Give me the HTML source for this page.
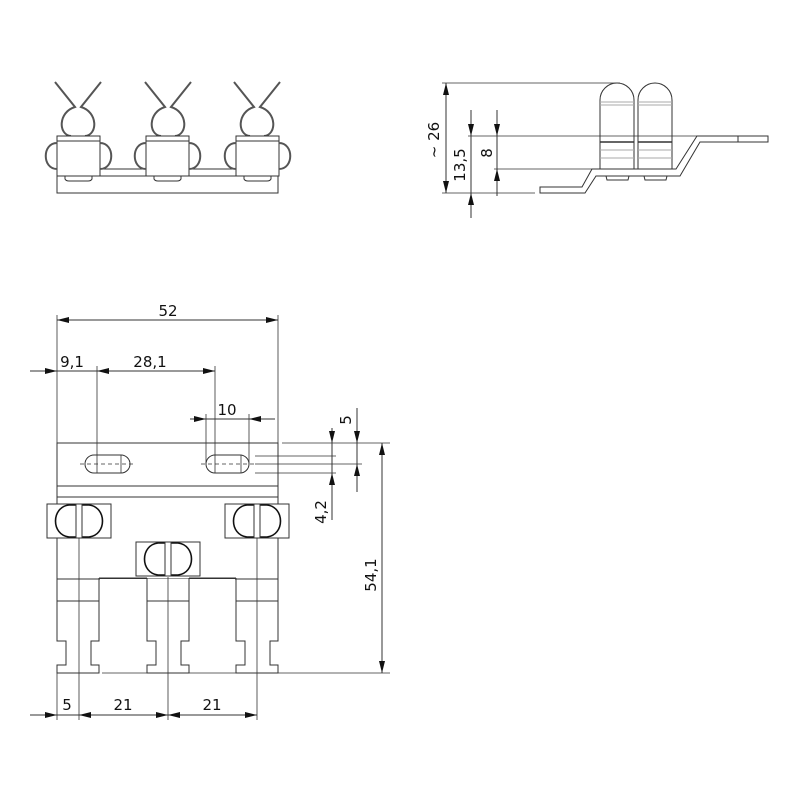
<!DOCTYPE html>
<html><head><meta charset="utf-8"><style>
html,body{margin:0;padding:0;background:#fff}
svg{display:block}
text{font-family:"DejaVu Sans","Liberation Sans",sans-serif;font-size:15px;fill:#111}
</style></head><body>
<svg width="800" height="800" viewBox="0 0 800 800" xmlns="http://www.w3.org/2000/svg">
<defs>
<g id="clip">
<path d="M-23,-36 L-3,-11 C-20,-6 -20,17 -7,18 M23,-36 L3,-11 C20,-6 20,17 7,18" fill="none" stroke="#555" stroke-width="2"/>
</g>
<g id="box">
<rect x="0" y="0" width="43" height="40" fill="#fff" stroke="#333"/>
<line x1="0" y1="5" x2="43" y2="5" stroke="#333"/>
<path d="M0,7 C-15,7 -15,33 0,33 M43,7 C58,7 58,33 43,33" fill="none" stroke="#555" stroke-width="2"/>
<path d="M8,40 L8,43 Q9,45 12,45 L31,45 Q34,45 35,43 L35,40" fill="none" stroke="#333"/>
</g>
<g id="bclip">
<rect x="0" y="0" width="64" height="34" fill="#fff" stroke="#333"/>
<path d="M29,1 L22,1 C4,3 4,31 22,33 L29,33" fill="none" stroke="#111" stroke-width="1.6"/>
<path d="M35,1 L42,1 C60,3 60,31 42,33 L35,33" fill="none" stroke="#111" stroke-width="1.6"/>
<rect x="29" y="0" width="6" height="34" fill="#fff" stroke="#333"/>
</g>
<g id="leg">
<path d="M0,0 L0,63 L9,63 L9,87 L0,87 L0,95 L42,95 L42,87 L34,87 L34,63 L42,63 L42,0" fill="none" stroke="#333"/>
<line x1="0" y1="23" x2="42" y2="23" stroke="#333"/>
</g>
<marker id="a" viewBox="0 0 12 6" refX="12" refY="3" markerWidth="12" markerHeight="6" orient="auto-start-reverse" markerUnits="userSpaceOnUse"><path d="M0,0 L12,3 L0,6z" fill="#111"/></marker>
</defs>

<!-- FRONT VIEW -->
<g stroke="#333" fill="none">
<rect x="57" y="176" width="221" height="17"/>
<rect x="100" y="169" width="46" height="7"/>
<rect x="189" y="169" width="47" height="7"/>
</g>
<use href="#clip" x="78" y="118"/>
<use href="#clip" x="168" y="118"/>
<use href="#clip" x="257" y="118"/>
<use href="#box" x="57" y="136"/>
<use href="#box" x="146" y="136"/>
<use href="#box" x="236" y="136"/>

<!-- SIDE VIEW -->
<g stroke="#333" fill="none">
<path d="M600,169 L600,100 A17,17 0 0 1 634,100 L634,169"/>
<path d="M638,169 L638,100 A17,17 0 0 1 672,100 L672,169"/>
<g stroke="#aaa"><line x1="600" y1="102" x2="634" y2="102"/><line x1="600" y1="105" x2="634" y2="105"/><line x1="638" y1="102" x2="672" y2="102"/><line x1="638" y1="105" x2="672" y2="105"/>
<line x1="600" y1="150" x2="634" y2="150"/><line x1="600" y1="158" x2="634" y2="158"/><line x1="638" y1="150" x2="672" y2="150"/><line x1="638" y1="158" x2="672" y2="158"/></g>
<line x1="600" y1="142" x2="634" y2="142" stroke-width="1.5"/><line x1="638" y1="142" x2="672" y2="142" stroke-width="1.5"/>
<path d="M540,187 L582,187 L592,169 L676,169 L697,136 L768,136 L768,142 L700,142 L680,176 L596,176 L585,193 L540,193 Z"/>
<line x1="738" y1="136" x2="738" y2="142"/>
<path d="M606,176 L607,180 L628,180 L629,176 M644,176 L645,180 L666,180 L667,176"/>
<line x1="442" y1="83" x2="620" y2="83" stroke-width="0.8"/>
<line x1="468" y1="136" x2="697" y2="136" stroke-width="0.8"/>
<line x1="494" y1="169" x2="600" y2="169" stroke-width="0.8"/>
<line x1="442" y1="193" x2="535" y2="193" stroke-width="0.8"/>
<line x1="446" y1="83" x2="446" y2="193" marker-start="url(#a)" marker-end="url(#a)"/>
<line x1="471" y1="110" x2="471" y2="136" marker-end="url(#a)"/>
<line x1="471" y1="136" x2="471" y2="193"/>
<line x1="471" y1="218" x2="471" y2="193" marker-end="url(#a)"/>
<line x1="497" y1="110" x2="497" y2="136" marker-end="url(#a)"/>
<line x1="497" y1="136" x2="497" y2="169"/>
<line x1="497" y1="196" x2="497" y2="169" marker-end="url(#a)"/>
</g>
<text transform="translate(439,140) rotate(-90)" text-anchor="middle">~ 26</text>
<text transform="translate(465,165) rotate(-90)" text-anchor="middle">13,5</text>
<text transform="translate(492,153) rotate(-90)" text-anchor="middle">8</text>

<!-- BOTTOM VIEW -->
<g stroke="#333" fill="none">
<rect x="57" y="443" width="221" height="136"/>
<line x1="57" y1="486" x2="278" y2="486"/>
<line x1="57" y1="497" x2="278" y2="497"/>
<rect x="85" y="455" width="45" height="18" rx="9"/>
<rect x="206" y="455" width="43" height="18" rx="9"/>
<g stroke-dasharray="4,3" stroke-width="0.8"><line x1="80" y1="464" x2="135" y2="464"/><line x1="201" y1="464" x2="254" y2="464"/></g>
</g>
<rect x="100" y="579" width="135" height="3" fill="#fff"/>
<g stroke="#333" fill="none">
<line x1="99" y1="578" x2="147" y2="578"/><line x1="189" y1="578" x2="236" y2="578"/>
</g>
<use href="#leg" x="57" y="578"/>
<use href="#leg" x="147" y="578"/>
<use href="#leg" x="236" y="578"/>
<use href="#bclip" x="47" y="504"/>
<use href="#bclip" x="225" y="504"/>
<use href="#bclip" x="136" y="542"/>
<g stroke="#333" fill="none" stroke-width="0.8">
<line x1="79" y1="538" x2="79" y2="720"/>
<line x1="168" y1="577" x2="168" y2="720"/>
<line x1="257" y1="538" x2="257" y2="720"/>
<line x1="57" y1="673" x2="57" y2="720"/>
<line x1="57" y1="315" x2="57" y2="443"/>
<line x1="278" y1="315" x2="278" y2="443"/>
<line x1="97" y1="366" x2="97" y2="473"/>
<line x1="121" y1="455" x2="121" y2="473"/>
<line x1="215" y1="366" x2="215" y2="473"/>
<line x1="241" y1="455" x2="241" y2="473"/>
<line x1="206" y1="414" x2="206" y2="464"/>
<line x1="249" y1="414" x2="249" y2="464"/>
<line x1="282" y1="443" x2="390" y2="443"/>
<line x1="255" y1="456" x2="336" y2="456"/>
<line x1="255" y1="464" x2="362" y2="464"/>
<line x1="255" y1="473" x2="336" y2="473"/>
<line x1="102" y1="673" x2="390" y2="673"/>
</g>
<g stroke="#333" fill="none">
<line x1="57" y1="320" x2="278" y2="320" marker-start="url(#a)" marker-end="url(#a)"/>
<line x1="30" y1="371" x2="57" y2="371" marker-end="url(#a)"/>
<line x1="57" y1="371" x2="97" y2="371"/>
<line x1="97" y1="371" x2="215" y2="371" marker-start="url(#a)" marker-end="url(#a)"/>
<line x1="190" y1="419" x2="206" y2="419" marker-end="url(#a)"/>
<line x1="206" y1="419" x2="249" y2="419"/>
<line x1="275" y1="419" x2="249" y2="419" marker-end="url(#a)"/>
<line x1="332" y1="428" x2="332" y2="443" marker-end="url(#a)"/>
<line x1="332" y1="443" x2="332" y2="473"/>
<line x1="332" y1="520" x2="332" y2="473" marker-end="url(#a)"/>
<line x1="357" y1="408" x2="357" y2="443" marker-end="url(#a)"/>
<line x1="357" y1="443" x2="357" y2="464"/>
<line x1="357" y1="492" x2="357" y2="464" marker-end="url(#a)"/>
<line x1="382" y1="443" x2="382" y2="673" marker-start="url(#a)" marker-end="url(#a)"/>
<line x1="30" y1="715" x2="57" y2="715" marker-end="url(#a)"/>
<line x1="57" y1="715" x2="79" y2="715"/>
<line x1="79" y1="715" x2="168" y2="715" marker-start="url(#a)" marker-end="url(#a)"/>
<line x1="168" y1="715" x2="257" y2="715" marker-start="url(#a)" marker-end="url(#a)"/>
</g>
<text x="168" y="316" text-anchor="middle">52</text>
<text x="72" y="367" text-anchor="middle">9,1</text>
<text x="150" y="367" text-anchor="middle">28,1</text>
<text x="227" y="415" text-anchor="middle">10</text>
<text transform="translate(351,420) rotate(-90)" text-anchor="middle">5</text>
<text transform="translate(326,512) rotate(-90)" text-anchor="middle">4,2</text>
<text transform="translate(376,575) rotate(-90)" text-anchor="middle">54,1</text>
<text x="67" y="710" text-anchor="middle">5</text>
<text x="123" y="710" text-anchor="middle">21</text>
<text x="212" y="710" text-anchor="middle">21</text>
</svg>
</body></html>
